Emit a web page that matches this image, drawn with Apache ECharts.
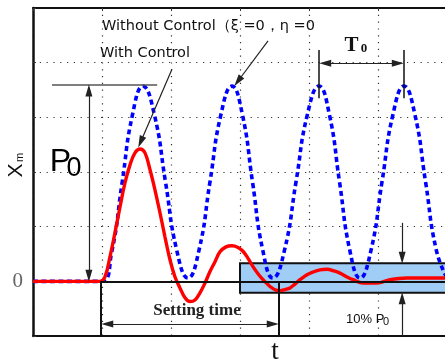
<!DOCTYPE html>
<html><head><meta charset="utf-8">
<script src="https://cdn.jsdelivr.net/npm/echarts@6/dist/echarts.min.js"></script>
<style>html,body{margin:0;padding:0;background:#fff}#c{width:445px;height:361px}</style>
</head><body><div id="c"></div>
<script>
// Without control (blue dashed): time t, displacement Xm
const blueT = [0, 0.986, 1.138, 1.290, 1.442, 1.594, 1.757, 1.920, 2.083, 2.246, 2.406, 2.565, 2.725, 2.884, 3.033, 3.181, 3.330, 3.478, 3.645, 3.812, 3.978, 4.145, 4.294, 4.442, 4.591, 4.739, 4.899, 5.058, 5.218, 5.377, 5.533, 5.689, 5.845, 6.0];
const blueV = [0, 0, 0.52, 1.79, 3.05, 3.57, 3.06, 1.82, 0.57, 0.06, 0.57, 1.82, 3.06, 3.57, 3.06, 1.82, 0.57, 0.06, 0.57, 1.82, 3.06, 3.57, 3.06, 1.82, 0.57, 0.06, 0.57, 1.82, 3.06, 3.57, 3.06, 1.82, 0.57, 0.06];
// With control (red solid)
const redT = [0, 0.971, 1.043, 1.116, 1.188, 1.261, 1.333, 1.406, 1.478, 1.551, 1.623, 1.696, 1.768, 1.841, 1.913, 1.986, 2.058, 2.130, 2.203, 2.275, 2.348, 2.420, 2.493, 2.565, 2.638, 2.710, 2.797, 2.884, 2.971, 3.043, 3.116, 3.188, 3.261, 3.333, 3.406, 3.464, 3.522, 3.580, 3.652, 3.725, 3.797, 3.870, 3.971, 4.058, 4.159, 4.261, 4.362, 4.449, 4.551, 4.638, 4.783, 4.986, 5.174, 5.420, 5.710, 5.971];
const redV = [0, 0, 0.08, 0.45, 0.89, 1.36, 1.80, 2.13, 2.35, 2.42, 2.35, 2.04, 1.67, 1.25, 0.81, 0.39, 0.08, -0.12, -0.30, -0.37, -0.34, -0.21, -0.03, 0.18, 0.36, 0.54, 0.63, 0.65, 0.62, 0.55, 0.42, 0.27, 0.14, 0.03, -0.06, -0.12, -0.16, -0.17, -0.15, -0.12, -0.05, 0.03, 0.12, 0.17, 0.21, 0.22, 0.19, 0.15, 0.08, 0.03, -0.03, -0.03, 0.03, 0.06, 0.06, 0.06];
const yTickLabels = ['0'];
// annotation anchors (data units)
const P0 = 3.59;
const bandTop = 0.33, bandBottom = -0.21, bandStart = 3.0;
const startT = 0.986, settleT = 3.565;
const T0a = 4.145, T0b = 5.377;

const zip = (a, b) => a.map((x, i) => [x, b[i]]);
const seg = (a, b, s1, s2, style) => [{coord: a, symbol: s1 || 'none', lineStyle: style}, {coord: b, symbol: s2 || 'none'}];

const chart = echarts.init(document.getElementById('c'), null, {renderer: 'canvas'});
const dotted = {color: '#333', width: 1.2, type: [1.2, 5.6]};
const serif = 'Liberation Serif';
const sans = 'Liberation Sans';

chart.setOption({
  animation: false,
  backgroundColor: '#fff',
  grid: {left: 33, right: -2, top: 8, bottom: 25, outerBoundsMode: 'none'},
  xAxis: [{
    type: 'value', min: 0, max: 6, interval: 1,
    axisLine: {show: true, onZero: false, lineStyle: {color: '#111', width: 2}},
    axisTick: {show: false}, axisLabel: {show: false},
    splitLine: {show: true, lineStyle: dotted}
  }, {
    type: 'value', position: 'top', min: 0, max: 6, interval: 1,
    axisLine: {show: true, onZero: false, lineStyle: {color: '#111', width: 2}},
    axisTick: {show: true, inside: true, length: 3, lineStyle: {color: '#333'}},
    axisLabel: {show: false}, splitLine: {show: false}
  }],
  yAxis: {
    type: 'value', min: -1, max: 5, interval: 1,
    axisLine: {show: true, onZero: false, lineStyle: {color: '#111', width: 2.5}},
    axisTick: {show: true, inside: true, length: 3, lineStyle: {color: '#333'}},
    axisLabel: {show: true, margin: 10, color: '#666', fontFamily: serif, fontSize: 21,
      formatter: v => (v === 0 ? yTickLabels[0] : '')},
    splitLine: {show: true, lineStyle: dotted}
  },
  series: [
    {
      type: 'line', data: [], z: 1, silent: true,
      markArea: {
        silent: true,
        itemStyle: {color: '#9fcdf5', opacity: 1, borderColor: '#111', borderWidth: 2},
        label: {show: false},
        data: [[{coord: [bandStart, bandTop]}, {coord: [6, bandBottom]}]]
      },
      markLine: {
        silent: true, animation: false, label: {show: false},
        lineStyle: {color: '#111', width: 2, type: 'solid'},
        symbol: 'none',
        data: [seg([startT, 0], [6, 0])]
      }
    },
    {
      name: 'Without Control', type: 'line', data: zip(blueT, blueV), z: 2,
      smooth: 0.5, showSymbol: false, symbol: 'none',
      lineStyle: {color: '#0000ff', width: 3.6, type: [5, 3.5]}
    },
    {
      name: 'With Control', type: 'line', data: zip(redT, redV), z: 3,
      smooth: 0.4, showSymbol: false, symbol: 'none',
      lineStyle: {color: '#ff0000', width: 3.4}
    },
    {
      type: 'line', data: [], z: 4, silent: true,
      markLine: {
        silent: true, animation: false, label: {show: false},
        symbolSize: [7, 12],
        lineStyle: {color: '#222', width: 1.2, type: 'solid'},
        data: [
          seg([0.275, P0], [1.80, P0], 'none', 'none', {color: '#555', width: 1.5}),
          seg([0.81, P0 - 0.1], [0.81, 0.1], 'triangle', 'triangle'),
          seg([T0a, 4.23], [T0a, 3.35], 'none', 'none', {color: '#111', width: 1.5}),
          seg([T0b, 4.23], [T0b, 3.35], 'none', 'none', {color: '#111', width: 1.5}),
          seg([T0a + 0.09, 3.99], [T0b - 0.09, 3.99], 'triangle', 'triangle'),
          seg([3.406, 4.40], [2.97, 3.66], 'none', 'triangle'),
          seg([2.014, 3.88], [1.56, 2.55], 'none', 'triangle'),
          seg([startT, 0], [startT, -1], 'none', 'none', {color: '#111', width: 2}),
          seg([settleT, 0], [settleT, -1], 'none', 'none', {color: '#111', width: 2}),
          seg([startT + 0.09, -0.78], [settleT - 0.09, -0.78], 'triangle', 'triangle'),
          seg([5.35, 1.07], [5.35, 0.43], 'none', 'triangle'),
          seg([5.35, -1], [5.35, -0.31], 'none', 'triangle')
        ]
      }
    }
  ],
  graphic: [
    {type: 'text', x: 102, y: 26, style: {text: 'Without Control（ξ =0，η =0', fontSize: 14.5, fontFamily: 'DejaVu Sans', fill: '#111', align: 'left', verticalAlign: 'middle'}},
    {type: 'text', x: 100, y: 53, style: {text: 'With Control', fontSize: 14.5, fontFamily: 'DejaVu Sans', fill: '#111', align: 'left', verticalAlign: 'middle'}},
    {type: 'text', x: 60.5, y: 162, style: {text: 'P', fontSize: 32, fontFamily: sans, fill: '#000', align: 'center', verticalAlign: 'middle'}},
    {type: 'text', x: 74, y: 169, style: {text: '0', fontSize: 27, fontFamily: sans, fill: '#000', align: 'center', verticalAlign: 'middle'}},
    {type: 'text', x: 16.5, y: 170.5, rotation: Math.PI / 2, style: {text: 'X', fontSize: 21, fontFamily: sans, fill: '#111', align: 'center', verticalAlign: 'middle'}},
    {type: 'text', x: 20, y: 157.5, rotation: Math.PI / 2, style: {text: 'm', fontSize: 11, fontFamily: sans, fill: '#111', align: 'center', verticalAlign: 'middle'}},
    {type: 'text', x: 351.5, y: 46, style: {text: 'T', fontSize: 21, fontFamily: serif, fontWeight: 'bold', fill: '#111', align: 'center', verticalAlign: 'middle'}},
    {type: 'text', x: 364, y: 49, style: {text: '0', fontSize: 13, fontFamily: serif, fontWeight: 'bold', fill: '#111', align: 'center', verticalAlign: 'middle'}},
    {type: 'text', x: 197, y: 311, style: {text: 'Setting time', fontSize: 17, fontFamily: serif, fontWeight: 'bold', fill: '#222', align: 'center', verticalAlign: 'middle'}},
    {type: 'text', x: 346, y: 319, style: {text: '10% P', fontSize: 13, fontFamily: sans, fill: '#111', align: 'left', verticalAlign: 'middle'}},
    {type: 'text', x: 383, y: 322, style: {text: '0', fontSize: 11, fontFamily: sans, fill: '#111', align: 'left', verticalAlign: 'middle'}},
    {type: 'text', x: 275, y: 352, style: {text: 't', fontSize: 27, fontFamily: serif, fill: '#111', align: 'center', verticalAlign: 'middle'}}
  ]
});
</script>
</body></html>
